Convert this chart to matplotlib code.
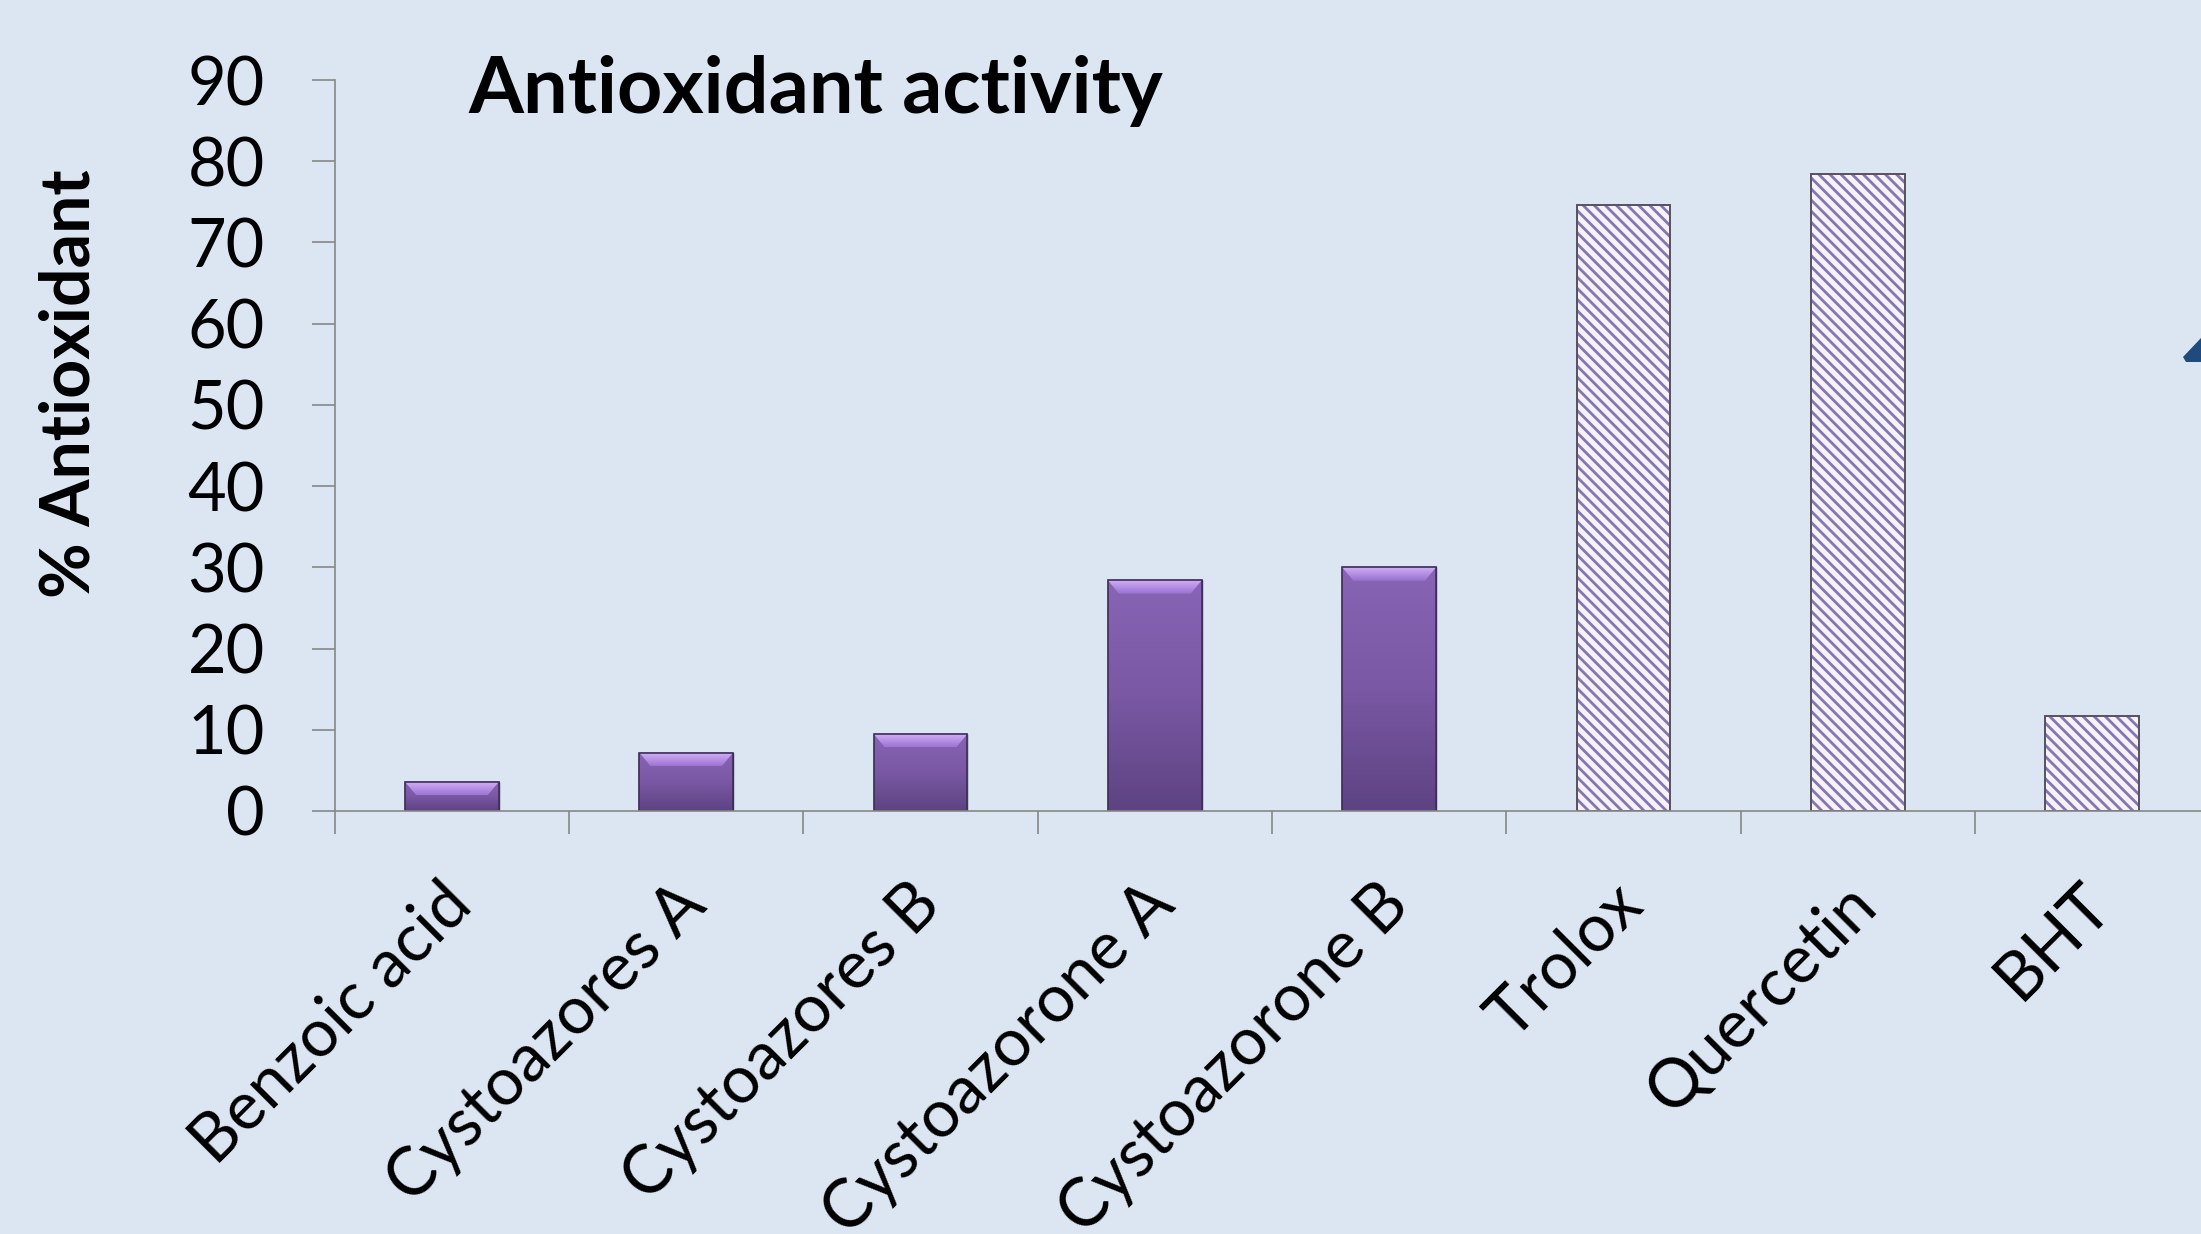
import numpy as np
import matplotlib
matplotlib.use("Agg")
from matplotlib import pyplot as plt
from matplotlib.patches import Polygon
from matplotlib.colors import LinearSegmentedColormap
import matplotlib.transforms as mtransforms

# data (% antioxidant activity)
compounds = ['Benzoic acid', 'Cystoazores A', 'Cystoazores B', 'Cystoazorone A',
             'Cystoazorone B', 'Trolox', 'Quercetin', 'BHT']
activity = [3.6, 7.2, 9.5, 28.4, 30.0, 74.6, 78.4, 11.7]
is_reference = [False, False, False, False, False, True, True, True]
y_ticks = [0, 10, 20, 30, 40, 50, 60, 70, 80, 90]

BG = '#DCE6F2'
AXIS = '#878787'
BAR_W = 0.40

plt.rcParams['font.family'] = ['Lato', 'DejaVu Sans']
plt.rcParams['hatch.linewidth'] = 2.0

fig = plt.figure(figsize=(22.01, 12.34), dpi=100, facecolor=BG)
W, H = 2201., 1234.
ax = fig.add_axes([334.8 / W, (H - 811) / H, 8 * 234.3 / W, (811 - 80) / H])
ax.set_facecolor(BG)

x = np.arange(len(compounds))
body_cmap = LinearSegmentedColormap.from_list('body', ['#8865B5', '#7A58A4', '#5D4382'])
bevel_cmap = LinearSegmentedColormap.from_list('bevel', ['#D0AEF6', '#9C74D2'])
grad = np.linspace(0, 1, 256).reshape(-1, 1)

px_per_unit_y = (811 - 80) / 90.
px_per_unit_x = 234.3

for xi, v, ref in zip(x, activity, is_reference):
    if ref:
        # hatched reference compounds
        ax.bar(xi, v, BAR_W, color='#F8F0FB', edgecolor='#8079AE', linewidth=0,
               hatch='\\\\\\', zorder=2)
        ax.bar(xi, v, BAR_W, fill=False, edgecolor='#57515F', linewidth=1.4, zorder=3)
    else:
        b = ax.bar(xi, v, BAR_W, color='#7A58A4', edgecolor='#3E2F58', linewidth=1.0, zorder=2)[0]
        im = ax.imshow(grad, cmap=body_cmap, aspect='auto', zorder=2.1,
                       extent=[xi - BAR_W / 2, xi + BAR_W / 2, 0, v], origin='upper')
        im.set_clip_path(b)
        # bevel on top of bar
        bh = 13 / px_per_unit_y
        inset = 11 / px_per_unit_x
        bev = Polygon([[xi - BAR_W / 2, v], [xi + BAR_W / 2, v],
                       [xi + BAR_W / 2 - inset, v - bh], [xi - BAR_W / 2 + inset, v - bh]],
                      closed=True, facecolor='#B08BE4', edgecolor='none', zorder=2.2)
        ax.add_patch(bev)
        im2 = ax.imshow(grad, cmap=bevel_cmap, aspect='auto', zorder=2.3,
                        extent=[xi - BAR_W / 2, xi + BAR_W / 2, v - bh, v], origin='upper')
        im2.set_clip_path(bev)
        ax.bar(xi, v, BAR_W, fill=False, edgecolor='#3E2F58', linewidth=1.2, zorder=2.4)

ax.set_xlim(-0.5, len(compounds) - 0.5)
ax.set_ylim(0, 90)

for s in ['top', 'right']:
    ax.spines[s].set_visible(False)
for s in ['left', 'bottom']:
    ax.spines[s].set_color(AXIS)
    ax.spines[s].set_linewidth(1.2)
    ax.spines[s].set_zorder(4)

ax.set_yticks(y_ticks)
ax.set_yticklabels([str(t) for t in y_ticks])
ax.tick_params(axis='y', length=16.5, width=1.2, color=AXIS, direction='out',
               pad=34, labelsize=48, labelcolor='black')

ax.set_xticks(np.arange(-0.5, len(compounds), 1))
ax.set_xticklabels([])
ax.tick_params(axis='x', which='major', length=16.5, width=1.2, color=AXIS, direction='out')
ax.set_xticks(x, minor=True)
ax.set_xticklabels(compounds, minor=True, rotation=45, ha='right', va='center',
                   rotation_mode='anchor', fontsize=48)
ax.tick_params(axis='x', which='minor', length=0, pad=60)
offset = mtransforms.ScaledTranslation(9 / 100., 0, fig.dpi_scale_trans)
for lab in ax.get_xticklabels(minor=True):
    lab.set_transform(lab.get_transform() + offset)

ax.set_ylabel('% Antioxidant', fontsize=49, fontweight='bold', va='center')
ax.yaxis.set_label_coords((70 - 334.8) / (8 * 234.3), (811 - 384) / (811 - 80.))

fig.text(468 / W, (H - 113) / H, 'Antioxidant activity', fontsize=57,
         fontweight='bold', ha='left', va='baseline')

# edge of the blue arrow shape cut off at the right side of the slide
fig.patches.append(Polygon([[2183 / W, (H - 357) / H], [1.0, (H - 338) / H], [1.0, (H - 362) / H],
                            [2186 / W, (H - 362) / H]], closed=True, transform=fig.transFigure,
                           facecolor='#1F4A7E', edgecolor='none'))

fig.savefig('out.png', dpi=100, facecolor=BG)
